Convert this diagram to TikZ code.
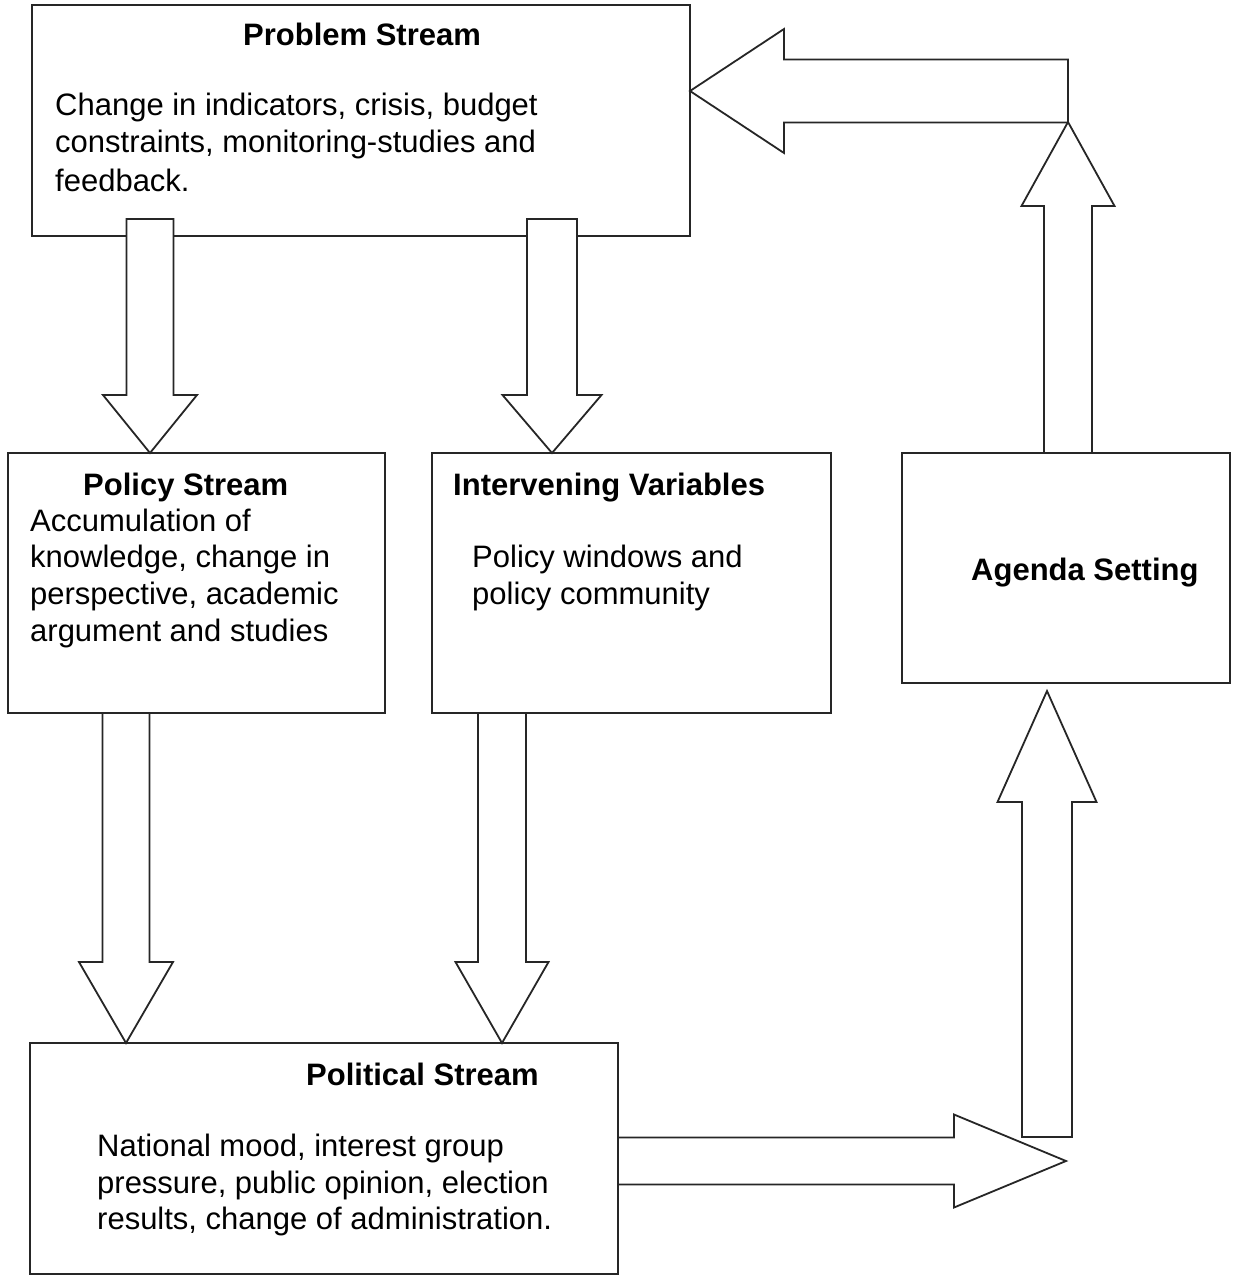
\documentclass[tikz,border=0pt]{standalone}
\usepackage{fontspec}
\setmainfont{Liberation Sans}
\begin{document}
\begin{tikzpicture}[x=1pt,y=-1pt,
  box/.style={draw=black!85, line width=1.8pt, inner sep=0pt, outer sep=0pt, anchor=north west},
  blk/.style={draw=black!85, fill=white, line width=1.8pt, line join=miter},
  txt/.style={inner sep=0pt, anchor=base west, font=\fontsize{31}{37}\selectfont},
  ttl/.style={inner sep=0pt, anchor=base west, font=\fontsize{31}{37}\selectfont\bfseries}]
\useasboundingbox[fill=white] (0,0) rectangle (1232,1276);

% boxes
\node[box, minimum width=658pt, minimum height=231pt] (problem) at (32,5) {};
\node[box, minimum width=377pt, minimum height=260pt] (policy) at (8,453) {};
\node[box, minimum width=399pt, minimum height=260pt] (interv) at (432,453) {};
\node[box, minimum width=328pt, minimum height=230pt] (agenda) at (902,453) {};
\node[box, minimum width=588pt, minimum height=231pt] (political) at (30,1043) {};

% texts
\node[ttl] (pt) at (243,46) {Problem Stream};
\node[txt] (p1) at (55,116) {Change in indicators, crisis, budget};
\node[txt] (p2) at (55,153) {constraints, monitoring-studies and};
\node[txt] (p3) at (55,191) {feedback.};

\node[ttl] (st) at (83,495) {Policy Stream};
\node[txt] (s1) at (30,531) {Accumulation of};
\node[txt] (s2) at (30,567) {knowledge, change in};
\node[txt] (s3) at (30,604) {perspective, academic};
\node[txt] (s4) at (30,641) {argument and studies};

\node[ttl] (it) at (453,495) {Intervening Variables};
\node[txt] (i1) at (472,567) {Policy windows and};
\node[txt] (i2) at (472,604) {policy community};

\node[ttl] (at) at (971,580) {Agenda Setting};

\node[ttl] (lt) at (306,1085) {Political Stream};
\node[txt] (l1) at (97,1156) {National mood, interest group};
\node[txt] (l2) at (97,1193) {pressure, public opinion, election};
\node[txt] (l3) at (97,1229) {results, change of administration.};

% arrow tips
\coordinate (t1) at (150,0 |- policy.north);
\coordinate (t2) at (552,0 |- interv.north);
\coordinate (t3) at (126,0 |- political.north);
\coordinate (t4) at (502,0 |- political.north);
\coordinate (t5) at (1066,1161);
\coordinate (t6) at (1047,691);
\coordinate (t7) at (1068,122);
\coordinate (t8) at (problem.east |- 0,91);

% block arrows
\draw[blk] (t1) -- ++(-47,-58) -- ++(23.5,0) -- ++(0,-176) -- ++(47,0) -- ++(0,176) -- ++(23.5,0) -- cycle;
\draw[blk] (t2) -- ++(-49.5,-58) -- ++(24.5,0) -- ++(0,-176) -- ++(50,0) -- ++(0,176) -- ++(24.5,0) -- cycle;
\draw[blk] (t3) -- ++(-47,-81) -- ++(23.5,0) -- ++(0,-249) -- ++(47,0) -- ++(0,249) -- ++(23.5,0) -- cycle;
\draw[blk] (t4) -- ++(-46.5,-81) -- ++(22.5,0) -- ++(0,-249) -- ++(48,0) -- ++(0,249) -- ++(22.5,0) -- cycle;
\draw[blk] (t5) -- ++(-112,-46.5) -- ++(0,23) -- ++(-336,0) -- ++(0,47) -- ++(336,0) -- ++(0,23) -- cycle;
\draw[blk] (t6) -- ++(-49.5,111) -- ++(24.5,0) -- ++(0,335) -- ++(50,0) -- ++(0,-335) -- ++(24.5,0) -- cycle;
\draw[blk] (t7) -- ++(-46.5,84) -- ++(22.5,0) -- ++(0,247) -- ++(48,0) -- ++(0,-247) -- ++(22.5,0) -- cycle;
\draw[blk] (t8) -- ++(94,-62) -- ++(0,30.5) -- ++(284,0) -- ++(0,63) -- ++(-284,0) -- ++(0,30.5) -- cycle;
\end{tikzpicture}
\end{document}
